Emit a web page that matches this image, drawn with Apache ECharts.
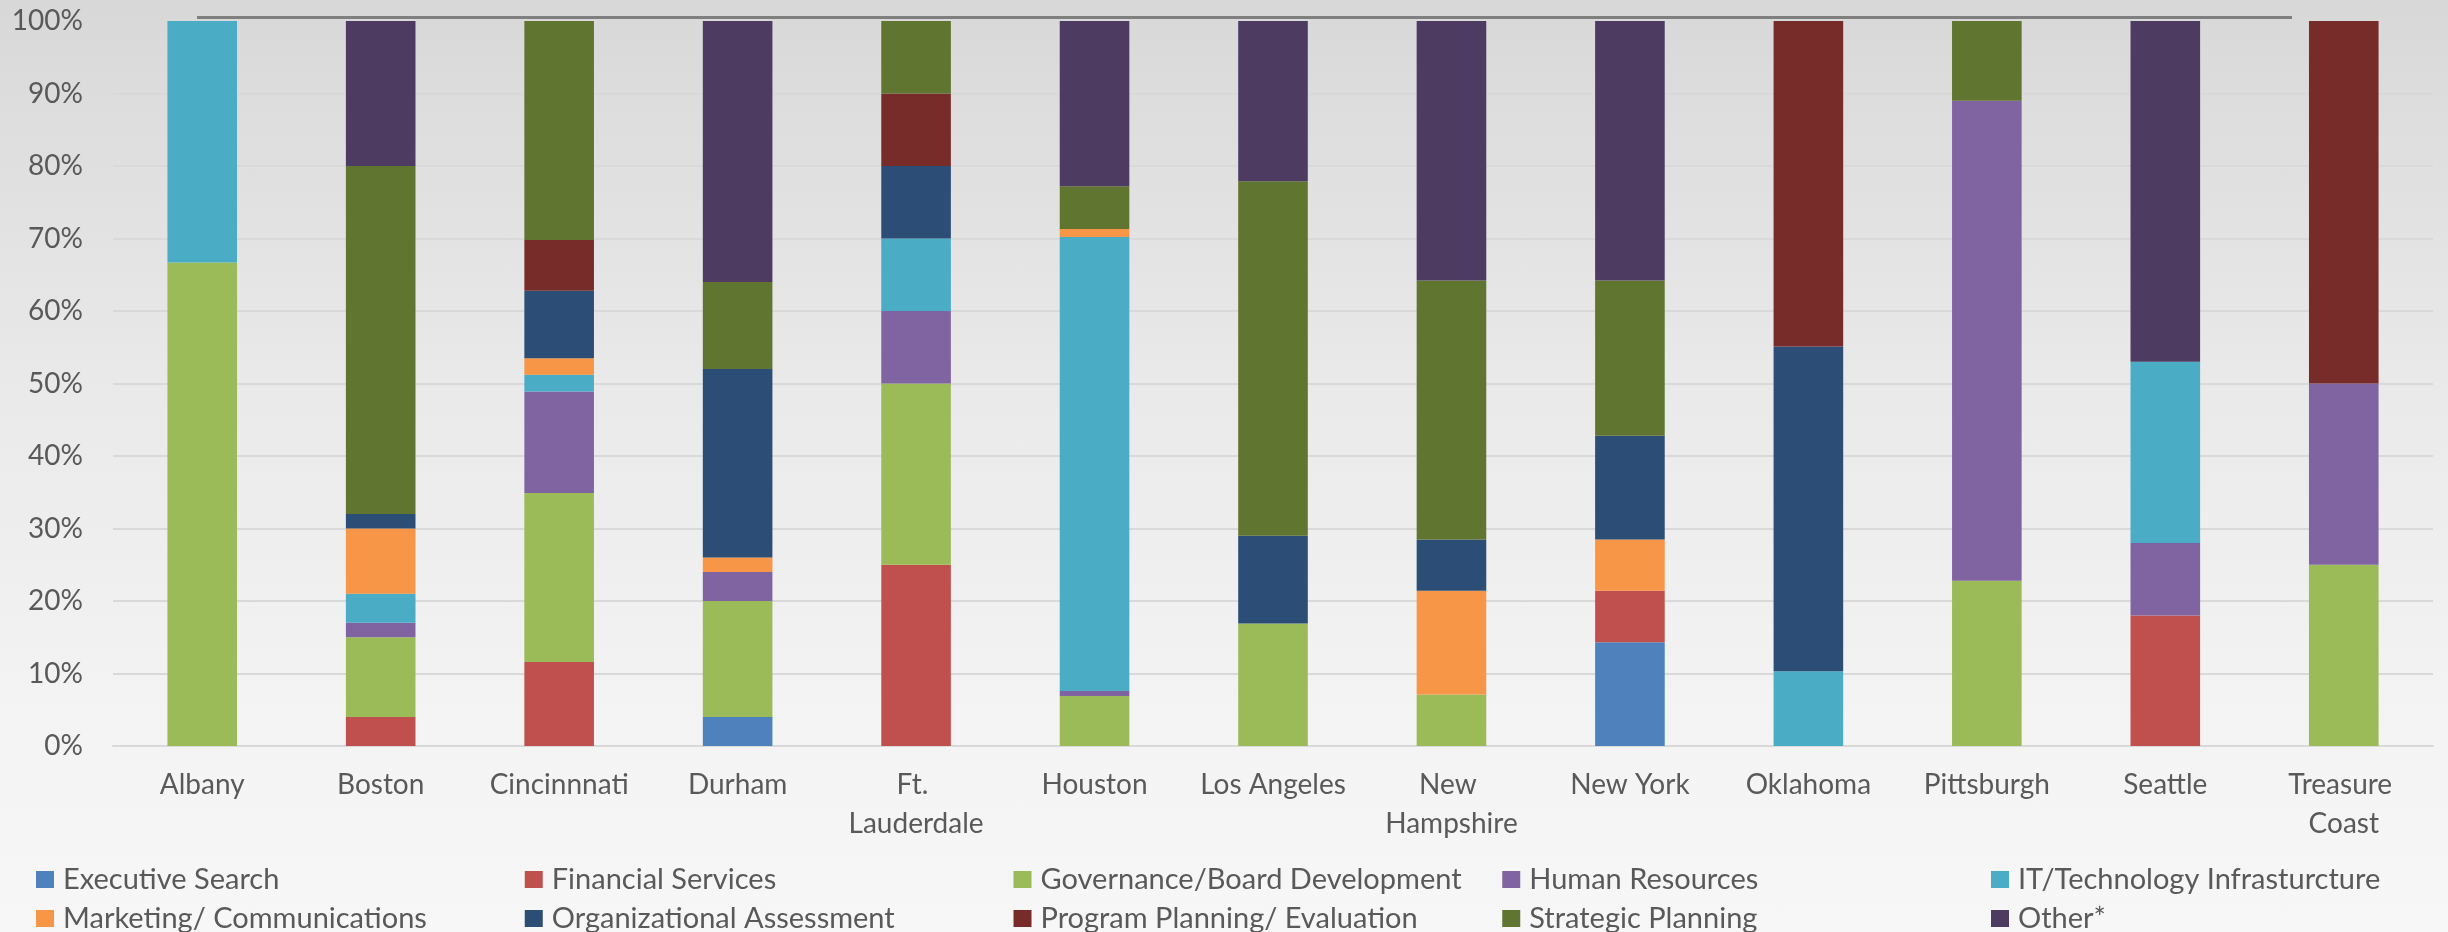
<!DOCTYPE html>
<html>
<head>
<meta charset="utf-8">
<script src="https://cdn.jsdelivr.net/npm/echarts@6/dist/echarts.min.js"></script>
<style>
html,body{margin:0;padding:0;}
#chart{width:2448px;height:932px;background:linear-gradient(to bottom,#d8d8d8 0%,#e9e9e9 40%,#f3f3f3 75%,#f7f7f7 100%);}
</style>
</head>
<body>
<div id="chart"></div>
<script>
const categories = ['Albany','Boston','Cincinnnati','Durham','Ft. Lauderdale','Houston','Los Angeles','New Hampshire','New York','Oklahoma','Pittsburgh','Seattle','Treasure Coast'];
const seriesNames = ['Executive Search','Financial Services','Governance/Board Development','Human Resources','IT/Technology Infrasturcture','Marketing/ Communications','Organizational Assessment','Program Planning/ Evaluation','Strategic Planning','Other*'];
const executiveSearch   = [0, 0, 0, 4, 0, 0, 0, 0, 14.3, 0, 0, 0, 0];
const financialServices = [0, 4, 11.6, 0, 25, 0, 0, 0, 7.1, 0, 0, 18, 0];
const governance        = [66.7, 11, 23.3, 16, 25, 6.9, 16.9, 7.1, 0, 0, 22.8, 0, 25];
const humanResources    = [0, 2, 14, 4, 10, 0.7, 0, 0, 0, 0, 66.2, 10, 25];
const itTechnology      = [33.3, 4, 2.3, 0, 10, 62.6, 0, 0, 0, 10.3, 0, 25, 0];
const marketing         = [0, 9, 2.3, 2, 0, 1.1, 0, 14.3, 7.1, 0, 0, 0, 0];
const orgAssessment     = [0, 2, 9.3, 26, 10, 0, 12.1, 7.1, 14.3, 44.8, 0, 0, 0];
const programPlanning   = [0, 0, 7, 0, 10, 0, 0, 0, 0, 44.9, 0, 0, 50];
const strategicPlanning = [0, 48, 30.2, 12, 10, 5.9, 48.9, 35.7, 21.4, 0, 11, 0, 0];
const other             = [0, 20, 0, 36, 0, 22.8, 22.1, 35.8, 35.8, 0, 0, 47, 0];
const yTicks = [0, 10, 20, 30, 40, 50, 60, 70, 80, 90, 100];

const seriesValues = [executiveSearch, financialServices, governance, humanResources, itTechnology, marketing, orgAssessment, programPlanning, strategicPlanning, other];
const colors = ['#4F81BD','#C0504D','#9BBB59','#8064A2','#4BACC6','#F79646','#2C4D75','#772C2A','#5F7530','#4D3B62'];
const FONT = 'Lato, "Open Sans", sans-serif';
const TXT = '#595959';

const chart = echarts.init(document.getElementById('chart'), null, {renderer:'canvas'});

const legends = seriesNames.map((n, i) => ({
  data: [n],
  left: 36 + (i % 5) * 488.75,
  top: i < 5 ? 865 : 904,
  padding: 0,
  icon: 'rect',
  itemWidth: 18,
  itemHeight: 17,
  selectedMode: false,
  textStyle: {color: TXT, fontFamily: FONT, fontSize: 29, lineHeight: 28, padding: [0,0,0,4]}
}));

const option = {
  backgroundColor: 'transparent',
  animation: false,
  color: colors,
  grid: {left: 113, right: 15, top: 21, bottom: 186, containLabel: false},
  legend: legends,
  graphic: [{
    type: 'line', silent: true,
    shape: {x1: 197, y1: 17.5, x2: 2292, y2: 17.5},
    style: {stroke: '#7f7f7f', lineWidth: 3}
  }],
  xAxis: {
    type: 'category',
    data: categories,
    axisLine: {show: true, lineStyle: {color: '#d9d9d9', width: 2}},
    axisTick: {show: false},
    axisLabel: {
      color: TXT, fontFamily: FONT, fontSize: 28, lineHeight: 39,
      margin: 19, interval: 0, width: 160, overflow: 'break'
    }
  },
  yAxis: {
    type: 'value',
    min: 0, max: 100, interval: 10,
    axisLine: {show: false},
    axisTick: {show: false},
    splitLine: {lineStyle: {color: '#d9d9d9', width: 2}},
    axisLabel: {
      color: TXT, fontFamily: FONT, fontSize: 28, margin: 30,
      formatter: v => yTicks.includes(v) ? v + '%' : ''
    }
  },
  series: seriesNames.map((n, i) => ({
    name: n,
    type: 'bar',
    stack: 'total',
    barWidth: '39%',
    data: seriesValues[i],
    itemStyle: {color: colors[i]}
  }))
};
chart.setOption(option);
</script>
</body>
</html>
